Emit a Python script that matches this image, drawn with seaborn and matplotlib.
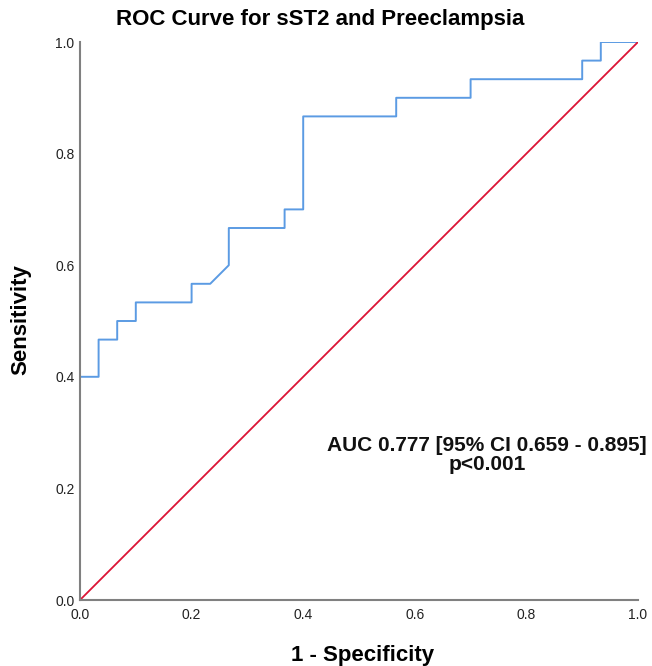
import matplotlib
matplotlib.use("Agg")
import matplotlib.pyplot as plt
import seaborn as sns
import pandas as pd

# ROC curve points (1 - specificity, sensitivity)
fpr = [0.0, 0.0, 1/30, 1/30, 2/30, 2/30, 3/30, 3/30, 6/30, 6/30, 7/30, 8/30, 8/30,
       11/30, 11/30, 12/30, 12/30, 17/30, 17/30, 21/30, 21/30, 27/30, 27/30, 28/30, 28/30, 1.0]
tpr = [0.0, 12/30, 12/30, 14/30, 14/30, 15/30, 15/30, 16/30, 16/30, 17/30, 17/30, 18/30, 20/30,
       20/30, 21/30, 21/30, 26/30, 26/30, 27/30, 27/30, 28/30, 28/30, 29/30, 29/30, 1.0, 1.0]
ref_x = [0.0, 1.0]
ref_y = [0.0, 1.0]
ticks = [0.0, 0.2, 0.4, 0.6, 0.8, 1.0]
tick_labels = ["0.0", "0.2", "0.4", "0.6", "0.8", "1.0"]

sns.set_style("white")
plt.rcParams["font.family"] = ["Liberation Sans", "DejaVu Sans"]

W, H = 652, 666
fig = plt.figure(figsize=(W / 100, H / 100), dpi=100)
ax = fig.add_axes([80 / W, 66 / H, 558 / W, 558 / H])

roc = pd.DataFrame({"fpr": fpr, "tpr": tpr})
ref = pd.DataFrame({"x": ref_x, "y": ref_y})
sns.lineplot(data=roc, x="fpr", y="tpr", sort=False, estimator=None, color="#5B9BE3", linewidth=1.4, ax=ax)
sns.lineplot(data=ref, x="x", y="y", sort=False, estimator=None, color="#DC1435", linewidth=1.3, ax=ax)

ax.set_xlim(0, 1)
ax.set_ylim(0, 1)
ax.set_xticks(ticks)
ax.set_xticklabels(tick_labels)
ax.set_yticks(ticks)
ax.set_yticklabels(tick_labels)
ax.tick_params(axis="both", length=0, labelsize=10, colors="#222222")
ax.tick_params(axis="x", pad=6)
ax.tick_params(axis="y", pad=4)
for s in ["top", "right"]:
    ax.spines[s].set_visible(False)
for s in ["left", "bottom"]:
    ax.spines[s].set_color("#808080")
    ax.spines[s].set_linewidth(1.5)

ax.set_xlabel("")
ax.set_ylabel("")
fig.text(363 / W, 1 - 655 / H, "1 - Specificity", ha="center", va="center",
         fontsize=16, fontweight="bold", color="black")
fig.text(21 / W, 1 - 320 / H, "Sensitivity", ha="center", va="center", rotation=90,
         fontsize=16, fontweight="bold", color="black")
fig.text(320 / W, 1 - 20 / H, "ROC Curve for sST2 and Preeclampsia", ha="center", va="center",
         fontsize=16, fontweight="bold", color="black")

ax.text(0.729, 0.26, "AUC 0.777 [95% CI 0.659 - 0.895]\np<0.001", ha="center", va="center",
        fontsize=15, fontweight="bold", linespacing=1.05, color="#111111", clip_on=False)

fig.savefig("out.png", dpi=100)
